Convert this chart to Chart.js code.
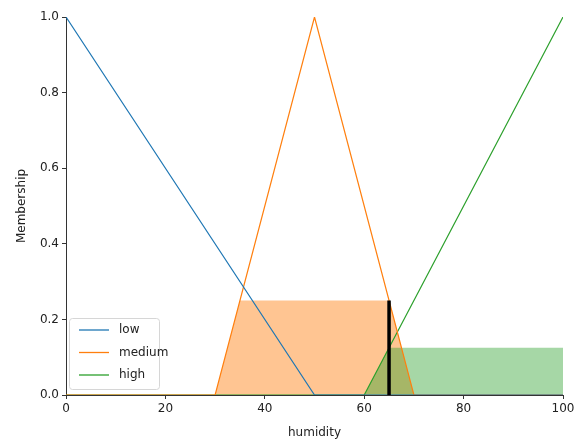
<!DOCTYPE html>
<html>
<head>
<meta charset="utf-8">
<script src="https://cdn.jsdelivr.net/npm/chart.js@4/dist/chart.umd.min.js"></script>
<style>
  html, body { margin: 0; padding: 0; background: #fff; }
  #wrap { width: 575px; height: 441px; }
</style>
</head>
<body>
<div id="wrap"><canvas id="mfChart" width="575" height="441"></canvas></div>
<script>
// humidity universe breakpoints and memberships
const lowX = [0, 50, 100];
const lowY = [1, 0, 0];
const mediumX = [0, 30, 50, 70, 100];
const mediumY = [0, 0, 1, 0, 0];
const highX = [0, 60, 100];
const highY = [0, 0, 1];

// activated (clipped) areas
const mediumFillX = [30, 35, 65, 70];
const mediumFillY = [0, 0.25, 0.25, 0];
const highFillX = [60, 65, 100];
const highFillY = [0, 0.125, 0.125];

// crisp output marker
const outX = [65, 65];
const outY = [0, 0.25];

const xTicks = [0, 20, 40, 60, 80, 100];
const yTicks = [0, 0.2, 0.4, 0.6, 0.8, 1.0];

const toPts = (xs, ys) => xs.map((x, i) => ({ x: x, y: ys[i] }));

const legendItems = [
  { label: 'low', color: '#1f77b4' },
  { label: 'medium', color: '#ff7f0e' },
  { label: 'high', color: '#2ca02c' }
];

// legend drawn inside the plot, lower left
const boxLegend = {
  id: 'boxLegend',
  afterDraw(chart) {
    const ctx = chart.ctx;
    const a = chart.chartArea;
    const x0 = a.left + 3, y0 = a.bottom - 77, w = 90, h = 71;
    ctx.save();
    ctx.fillStyle = 'rgba(255,255,255,0.8)';
    ctx.strokeStyle = '#d6d6d6';
    ctx.lineWidth = 1;
    ctx.beginPath();
    ctx.roundRect(x0 + 0.5, y0 + 0.5, w, h, 3);
    ctx.fill();
    ctx.stroke();
    ctx.font = '12px "DejaVu Sans"';
    ctx.textBaseline = 'middle';
    legendItems.forEach((it, i) => {
      const y = y0 + 12 + i * 22.5;
      ctx.strokeStyle = it.color;
      ctx.lineWidth = 1.3;
      ctx.beginPath();
      ctx.moveTo(x0 + 10, y);
      ctx.lineTo(x0 + 40, y);
      ctx.stroke();
      ctx.fillStyle = '#222';
      ctx.fillText(it.label, x0 + 50, y);
    });
    ctx.restore();
  }
};

const ctx = document.getElementById('mfChart').getContext('2d');
new Chart(ctx, {
  type: 'line',
  data: {
    datasets: [
      { label: 'out', data: toPts(outX, outY), borderColor: '#000', borderWidth: 3.5, order: 0 },
      { label: 'low', data: toPts(lowX, lowY), borderColor: '#1f77b4', borderWidth: 1.2, order: 1 },
      { label: 'medium', data: toPts(mediumX, mediumY), borderColor: '#ff7f0e', borderWidth: 1.2, order: 2 },
      { label: 'high', data: toPts(highX, highY), borderColor: '#2ca02c', borderWidth: 1.2, order: 3 },
      { label: 'mediumFill', data: toPts(mediumFillX, mediumFillY), borderWidth: 0, borderColor: 'rgba(0,0,0,0)',
        backgroundColor: 'rgba(255,127,14,0.45)', fill: 'origin', order: 5 },
      { label: 'highFill', data: toPts(highFillX, highFillY), borderWidth: 0, borderColor: 'rgba(0,0,0,0)',
        backgroundColor: 'rgba(44,160,44,0.42)', fill: 'origin', order: 4 }
    ]
  },
  options: {
    responsive: false,
    animation: false,
    elements: { point: { radius: 0 }, line: { tension: 0 } },
    layout: { padding: { top: 17, right: 12, left: 0, bottom: 0 } },
    plugins: {
      legend: { display: false },
      tooltip: { enabled: false }
    },
    scales: {
      x: {
        type: 'linear',
        min: 0,
        max: 100,
        afterFit: s => { s.height = 46; s.paddingLeft = 0; s.paddingRight = 0; },
        afterBuildTicks: s => { s.ticks = xTicks.map(v => ({ value: v })); },
        ticks: { color: '#222', font: { family: 'DejaVu Sans', size: 12 }, padding: 3 },
        grid: { drawOnChartArea: false, drawTicks: true, tickLength: 4, color: '#333' },
        border: { display: true, color: '#333', width: 1 },
        title: { display: true, text: 'humidity', color: '#222', font: { family: 'DejaVu Sans', size: 12 }, padding: { top: 2, bottom: 1 } }
      },
      y: {
        type: 'linear',
        min: 0,
        max: 1,
        afterFit: s => { s.width = 66; },
        afterBuildTicks: s => { s.ticks = yTicks.map(v => ({ value: v })); },
        ticks: { color: '#222', font: { family: 'DejaVu Sans', size: 12 }, padding: 3, callback: v => v.toFixed(1) },
        grid: { drawOnChartArea: false, drawTicks: true, tickLength: 4, color: '#333' },
        border: { display: true, color: '#333', width: 1 },
        title: { display: true, text: 'Membership', color: '#222', font: { family: 'DejaVu Sans', size: 12 }, padding: { top: 15, bottom: 0 } }
      }
    }
  },
  plugins: [boxLegend]
});
</script>
</body>
</html>
